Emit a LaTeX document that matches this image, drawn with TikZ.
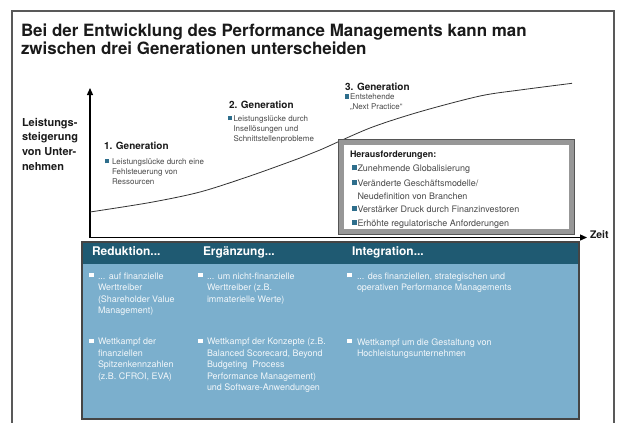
\documentclass[tikz,border=0pt]{standalone}
\usepackage{fontspec}
\setmainfont{TeX Gyre Heros}
\usetikzlibrary{arrows.meta}

\definecolor{framegray}{HTML}{595959}
\definecolor{titleink}{HTML}{1A1A1A}
\definecolor{bodyink}{HTML}{4A4A4A}
\definecolor{bulteal}{HTML}{2E6E8C}
\definecolor{headteal}{HTML}{1F5A72}
\definecolor{panelblue}{HTML}{7BAFCD}
\definecolor{paneledge}{HTML}{454545}
\definecolor{boxgray}{HTML}{979797}
\definecolor{boxedge}{HTML}{555555}
\definecolor{paneltext}{HTML}{F2F7FA}

% bullets hung to the left of the first line
\newcommand\tealbul[1]{\llap{\textcolor{bulteal}{\rule[0.15em]{0.55em}{0.55em}}\hspace{#1}}}
\newcommand\whitebul[1]{\llap{\textcolor{white}{\rule[0.22em]{0.48em}{0.48em}}\hspace{#1}}}

\begin{document}
\begin{tikzpicture}[x=1bp,y=-1bp,
  txt/.style={anchor=north west,inner sep=0pt,outer sep=0pt,align=left},
  titletxt/.style={txt,text=titleink,font=\bfseries\fontsize{17}{17.5}\selectfont},
  axislabel/.style={txt,text=titleink,font=\bfseries\fontsize{11}{14.8}\selectfont},
  gentitle/.style={txt,text=titleink,font=\bfseries\fontsize{10}{12}\selectfont},
  gentext/.style={txt,text=bodyink,font=\fontsize{8}{10.2}\selectfont},
  challenge/.style={txt,text=bodyink,font=\fontsize{9}{12.7}\selectfont},
  headtxt/.style={txt,text=white,font=\bfseries\fontsize{12}{14}\selectfont},
  paneltxt/.style={txt,text=paneltext,font=\fontsize{9}{11.5}\selectfont},
  axis/.style={line width=1.3bp,draw=black,-{Triangle[length=7bp,width=6bp]}},
  trend/.style={line width=0.8bp,draw=black!80}
]
\useasboundingbox (0,0) rectangle (620,422);
\fill[white] (0,0) rectangle (620,422);

% page frame, open at the bottom
\draw[framegray,line width=1.3bp] (12,424) -- (12,11) -- (614,11) -- (614,424);

% heading
\node[titletxt] (title) at (21,24)
  {Bei der Entwicklung des Performance Managements kann man\\zwischen drei Generationen unterscheiden};

% axes
\coordinate (origin) at (90,237.5);
\coordinate (ytip) at (90,88);
\coordinate (xtip) at (587,237.5);
\draw[axis] (origin) -- (ytip);
\draw[axis] (origin) -- (xtip);
\node[axislabel] (ylabel) at (22,118) {Leistungs-\\steigerung\\von Unter-\\nehmen};
\node[txt,text=titleink,font=\bfseries\fontsize{10.5}{12}\selectfont] (zeit) at (590,231) {Zeit};

% performance curve
\draw[trend] plot[smooth,tension=0.5] coordinates
  {(90,212) (150,202.5) (200,192) (250,176) (300,158) (320,150) (370,128)
   (420,111.7) (480,96) (520,90) (572,83.3)};

% generations
\node[gentitle] (g1) at (104,142) {1. Generation};
\node[gentext] (g1t) at (112,158.7) {\tealbul{2.6bp}Leistungslücke durch eine\\Fehlsteuerung von\\Ressourcen};
\node[gentitle] (g2) at (229,101) {2. Generation};
\node[gentext] (g2t) at (233.5,115.5) {\tealbul{1.5bp}Leistungslücke durch\\Insellösungen und\\Schnittstellenprobleme};
\node[gentitle] (g3) at (345,83) {3. Generation};
\node[gentext] (g3t) at (350,94) {\tealbul{1bp}Entstehende\\„Next Practice“};

% challenges box
\draw[boxedge,line width=0.8bp] (338.6,139.6) rectangle (574.4,234.4);
\draw[boxgray,line width=5bp] (341.5,142.5) rectangle (571.5,231.5);
\fill[white] (344,145) rectangle (569,229);
\node[challenge,font=\bfseries\fontsize{9}{12}\selectfont,text=titleink] (ch0) at (350,150.5) {Herausforderungen:};
\node[challenge] (ch1) at (357.5,165) {\tealbul{0.8bp}Zunehmende Globalisierung};
\node[challenge] (ch2) at (357.5,180) {\tealbul{0.8bp}Veränderte Geschäftsmodelle/\\Neudefinition von Branchen};
\node[challenge] (ch3) at (357.5,205.5) {\tealbul{0.8bp}Verstärker Druck durch Finanzinvestoren};
\node[challenge] (ch4) at (357.5,219.5) {\tealbul{0.8bp}Erhöhte regulatorische Anforderungen};

% lower panel
\fill[panelblue] (82,242) rectangle (579,419);
\fill[headteal] (82,242) rectangle (579,264);
\draw[paneledge,line width=1.2bp] (82,242) rectangle (579,419);
\node[headtxt] (h1) at (92,246.7) {Reduktion...};
\node[headtxt] (h2) at (203,246.7) {Ergänzung...};
\node[headtxt] (h3) at (352,246.7) {Integration...};

\node[paneltxt] (r1c1) at (98,272.7) {\whitebul{4.5bp}... auf finanzielle\\Werttreiber\\(Shareholder Value\\Management)};
\node[paneltxt] (r1c2) at (207,272.7) {\whitebul{4.5bp}... um nicht-finanzielle\\Werttreiber (z.B.\\immaterielle Werte)};
\node[paneltxt] (r1c3) at (357,272.7) {\whitebul{5.5bp}... des finanziellen, strategischen und\\operativen Performance Managements};

\node[paneltxt] (r2c1) at (98,338.3) {\whitebul{4.5bp}Wettkampf der\\finanziellen\\Spitzenkennzahlen\\(z.B. CFROI, EVA)};
\node[paneltxt] (r2c2) at (207,338.3) {\whitebul{4.5bp}Wettkampf der Konzepte (z.B.\\Balanced Scorecard, Beyond\\Budgeting\ \ Process\\Performance Management)\\und Software-Anwendungen};
\node[paneltxt] (r2c3) at (357,338.3) {\whitebul{5.5bp}Wettkampf um die Gestaltung von\\Hochleistungsunternehmen};
\end{tikzpicture}
\end{document}
